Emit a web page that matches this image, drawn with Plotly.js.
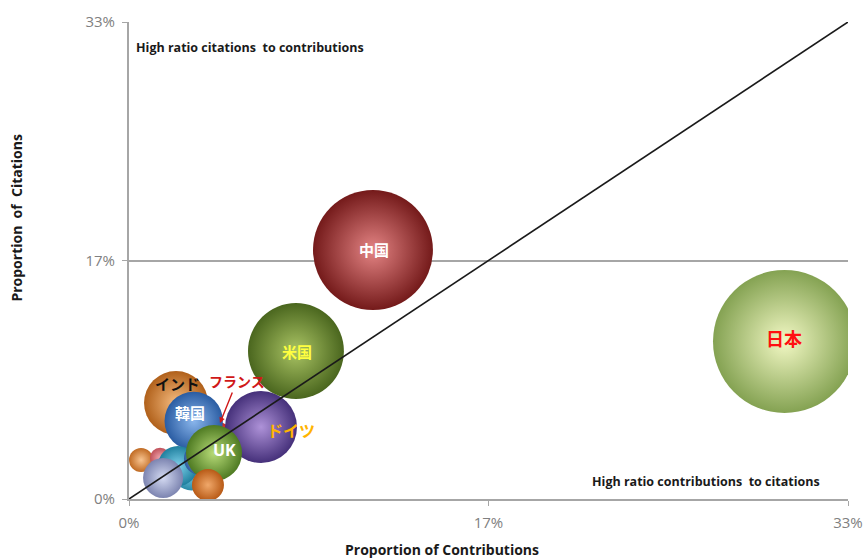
<!DOCTYPE html>
<html>
<head>
<meta charset="utf-8">
<script src="https://cdn.plot.ly/plotly-3.0.1.min.js"></script>
<style>
  html, body { margin: 0; padding: 0; background: #ffffff; }
  #chart { width: 865px; height: 558px; }
</style>
</head>
<body>
<div id="chart"></div>
<script>
// Share of contributions (x) vs share of citations (y); bubble area = weight.
// Listed back to front, so later countries are drawn on top.
const countries     = ['インド', 'フランス', '韓国', '国A', '国B', '国D', '国C', '国E', '国F', 'ドイツ', 'UK', '国G', '米国', '中国', '日本'];
const contributions = [0.0218, 0.0380, 0.0300, 0.0056, 0.0144, 0.0290, 0.0227, 0.0329, 0.0158, 0.0612, 0.0394, 0.0366, 0.0774, 0.1131, 0.3039];
const citations     = [0.0671, 0.0356, 0.0545, 0.0273, 0.0287, 0.0200, 0.0231, 0.0280, 0.0147, 0.0503, 0.0321, 0.0098, 0.1034, 0.1740, 0.1101];
const weights       = [6.0,    4.6,    5.0,    0.85,   0.6,    2.35,   2.35,   1.5,    2.35,   7.6,    4.6,    1.5,    13.5,   21.1,   30.0];

// sphere shading: edge colour and centre highlight
const edgeColors   = ['#b0601a', '#c42828', '#2a5ca2', '#c06a22', '#c0505a', '#2a8aa8', '#1f7f9e', '#2f5c9e', '#7c84b0', '#45307a', '#4e7a22', '#b85a16', '#4a661e', '#741a1a', '#84a252'];
const centerColors = ['#f6bc80', '#f09a9a', '#8ab6ec', '#f8c490', '#f0a8b0', '#8ad8f0', '#7ed0ea', '#8ab0ea', '#d4daf2', '#ae92d8', '#b8dc78', '#f0a86a', '#aac464', '#e48484', '#f2f8c4'];

const tickVals  = [0, 1/6, 1/3];
const tickTexts = ['0%', '17%', '33%'];

const maxDiameter = 143;
const sizeRef = 2 * Math.max(...weights) / (maxDiameter * maxDiameter);

const bubbles = {
  type: 'scatter',
  mode: 'markers',
  x: contributions,
  y: citations,
  text: countries,
  cliponaxis: true,
  marker: {
    size: weights,
    sizemode: 'area',
    sizeref: sizeRef,
    color: edgeColors,
    opacity: 1,
    line: { width: 0 },
    gradient: { type: 'radial', color: centerColors }
  },
  hoverinfo: 'skip',
  showlegend: false
};

// equal-share reference line
const parity = {
  type: 'scatter',
  mode: 'lines',
  x: [0, 1/3],
  y: [0, 1/3],
  line: { color: '#1a1a1a', width: 1.6 },
  hoverinfo: 'skip',
  showlegend: false
};

const jp = '"Noto Sans CJK JP", "Noto Sans", sans-serif';
const latin = '"Open Sans", "Liberation Sans", sans-serif';
const sp = '\u00a0 ';

function idx(name) { return countries.indexOf(name); }

function countryLabel(name, color, size, dx, dy) {
  const i = idx(name);
  return {
    x: contributions[i], y: citations[i], xref: 'x', yref: 'y',
    text: '<b>' + name + '</b>', showarrow: false,
    xshift: dx, yshift: dy,
    font: { family: name === 'UK' ? latin : jp, size: size, color: color }
  };
}

const fr = idx('フランス');
const annotations = [
  countryLabel('中国', '#ffffff', 15, 1, 1),
  countryLabel('日本', '#ff1010', 18, -1, 3),
  countryLabel('米国', '#ffff40', 15, 1, 0),
  countryLabel('ドイツ', '#ffb400', 16, 30, -3),
  countryLabel('インド', '#111111', 15, 1, 19),
  countryLabel('韓国', '#ffffff', 15, -4, 9),
  countryLabel('UK', '#ffffff', 16, 11, 3),
  {
    x: contributions[fr], y: citations[fr], xref: 'x', yref: 'y',
    xshift: 9, yshift: 25,
    text: '<b>フランス</b>', showarrow: true,
    arrowhead: 2, arrowsize: 0.8, arrowwidth: 1.4, arrowcolor: '#d01818',
    ax: 17, ay: -42,
    font: { family: jp, size: 14, color: '#d01818' }
  },
  {
    x: 0.0025, y: 0.3155, xref: 'x', yref: 'y', xanchor: 'left',
    text: '<b>High ratio citations' + sp + 'to contributions</b>', showarrow: false,
    font: { family: latin, size: 12.5, color: '#1a1a1a' }
  },
  {
    x: 0.3215, y: 0.0125, xref: 'x', yref: 'y', xanchor: 'right',
    text: '<b>High ratio contributions' + sp + 'to citations</b>', showarrow: false,
    font: { family: latin, size: 12.5, color: '#1a1a1a' }
  },
  {
    x: 0.435, y: 0, xref: 'paper', yref: 'paper', yanchor: 'top',
    xanchor: 'center', yshift: -39,
    text: '<b>Proportion of Contributions</b>', showarrow: false,
    font: { family: latin, size: 14, color: '#1a1a1a' }
  },
  {
    x: 0, y: 0.59, xref: 'paper', yref: 'paper', xanchor: 'center', yanchor: 'middle',
    xshift: -112, textangle: -90,
    text: '<b>Proportion' + sp + 'of' + sp + 'Citations</b>', showarrow: false,
    font: { family: latin, size: 14, color: '#1a1a1a' }
  }
];

const axisCommon = {
  range: [0, 1/3],
  tickvals: tickVals,
  ticktext: tickTexts,
  zeroline: false,
  showline: true,
  linecolor: '#a6a6a6',
  linewidth: 2,
  ticks: 'outside',
  ticklen: 5,
  tickwidth: 1,
  tickcolor: '#a6a6a6',
  tickfont: { family: latin, size: 15, color: '#808080' },
  fixedrange: true
};

const layout = {
  width: 865,
  height: 558,
  margin: { l: 129, r: 17, t: 22, b: 59 },
  paper_bgcolor: '#ffffff',
  plot_bgcolor: '#ffffff',
  showlegend: false,
  hovermode: false,
  font: { family: latin, size: 13, color: '#808080' },
  xaxis: Object.assign({}, axisCommon, { showgrid: false, ticklabelstandoff: 4 }),
  yaxis: Object.assign({}, axisCommon, { showgrid: true, gridcolor: '#a6a6a6', gridwidth: 2, ticklabelstandoff: 4 }),
  // white strip right of the plotting area so the largest bubble ends at the frame
  shapes: [{
    type: 'rect', xref: 'paper', yref: 'paper', layer: 'above',
    x0: 1, x1: 1.03, y0: 0.004, y1: 1,
    fillcolor: '#ffffff', line: { width: 0 }
  }],
  annotations: annotations
};

Plotly.newPlot('chart', [bubbles, parity], layout, { displayModeBar: false, staticPlot: true });
</script>
</body>
</html>
